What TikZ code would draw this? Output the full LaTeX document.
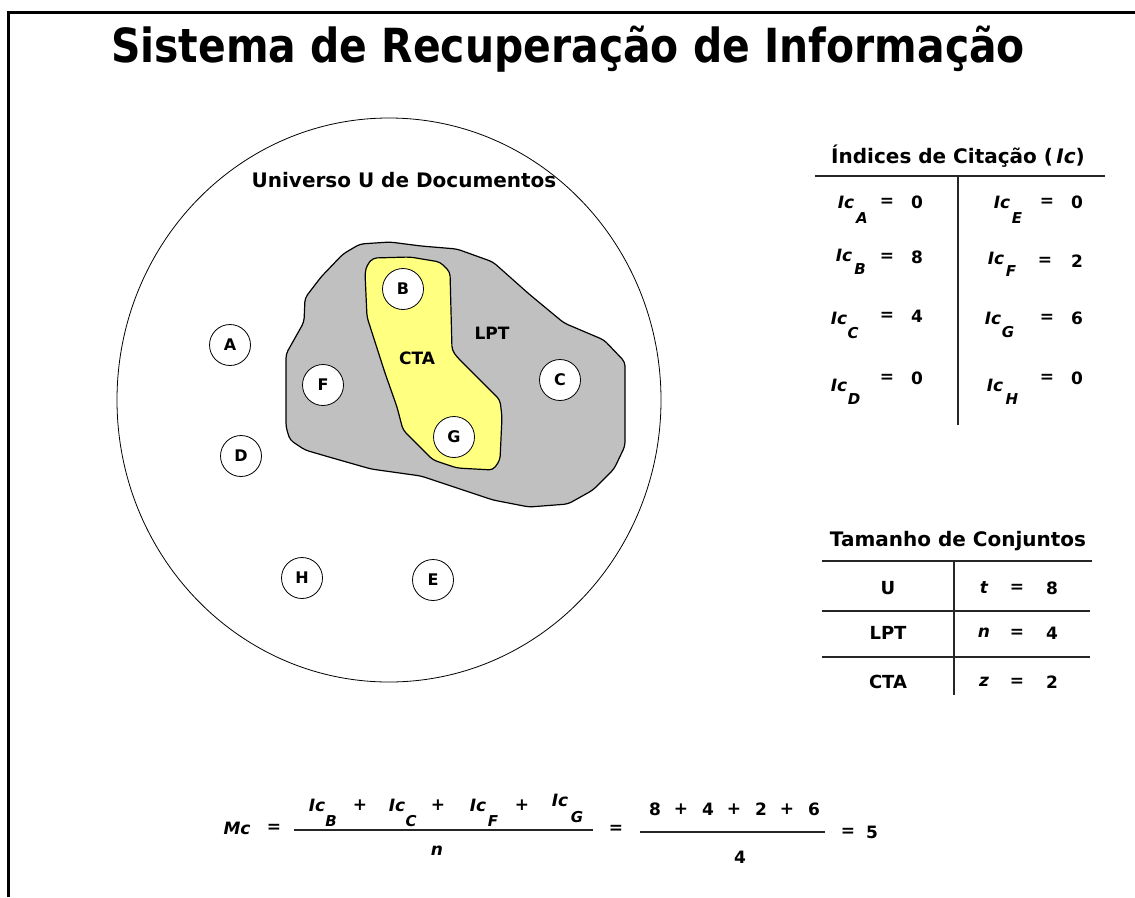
\documentclass[tikz,border=0pt]{standalone}
\usepackage{fontspec}
\setmainfont{DejaVu Sans}
\newfontfamily\titlefont[FakeStretch=0.87]{DejaVu Sans}
\usetikzlibrary{positioning}
\definecolor{lptgray}{HTML}{C0C0C0}
\definecolor{ctayellow}{HTML}{FFFF80}

\begin{document}
\begin{tikzpicture}[x=1pt,y=-1pt]
\tikzset{doc/.style={circle,draw,line width=0.8pt,fill=white,minimum size=41pt,inner sep=0pt,font=\bfseries\fontsize{16}{16}\selectfont},
  lbl/.style={font=\bfseries\fontsize{20}{20}\selectfont,inner sep=0pt},
  val/.style={font=\bfseries\fontsize{17}{17}\selectfont,inner sep=0pt},
  var/.style={font=\bfseries\itshape\fontsize{17}{17}\selectfont,inner sep=0pt},
  subs/.style={font=\bfseries\itshape\fontsize{15}{15}\selectfont,inner sep=0pt},
  tabline/.style={line width=1.5pt,black!85}}
\useasboundingbox (0,0) rectangle (1135,897);
\draw[line width=3pt] (8.5,897) -- (8.5,12.5) -- (1135,12.5);
\node[font=\titlefont\bfseries\fontsize{47}{47}\selectfont,anchor=base] (title) at (568,62) {Sistema de Recuperação de Informação};

% universo
\draw[line width=0.8pt] (389,400) ellipse [x radius=272pt, y radius=282pt];
\node[lbl] (univ) at (404,180) {Universo U de Documentos};
\draw[line width=1.2pt,fill=lptgray,rounded corners=4pt]
  (286,427) -- (286,354) -- (304,322) -- (305,298) -- (321,277) -- (343,254) -- (360,244)
  -- (390,242) -- (421,246) -- (457,249) -- (493,262) -- (529,294) -- (564,323) -- (604,340)
  -- (625,362) -- (625,446) -- (614,469) -- (593,490) -- (568,504) -- (529,507) -- (493,500)
  -- (457,488) -- (421,476) -- (371,469) -- (329,457) -- (305,450) -- (290,440) -- cycle;
\draw[line width=1.2pt,fill=ctayellow,rounded corners=4pt]
  (367,265) -- (373,258) -- (410,257) -- (440,262) -- (450,272) -- (452,350) -- (457,357)
  -- (477,377) -- (500,400) -- (502,417) -- (500,460) -- (493,470) -- (457,468) -- (433,460)
  -- (423,450) -- (403,430) -- (397,407) -- (385,373) -- (367,317) -- (365,273) -- cycle;
\node[val] (lpt) at (492,333) {LPT};
\node[val] (cta) at (417,358) {CTA};
\foreach \d/\x/\y in {A/230/345,B/403/289,C/560/380,D/241/456,E/433/580,F/323/385,G/454/437,H/302/578}
  \node[doc] (doc\d) at (\x,\y) {\d};

% indices de citacao
\node[lbl] (ictitle) at (958,156) {Índices de Citação (\,\textit{Ic})};
\draw[tabline] (815,176) -- (1105,176);
\draw[tabline] (958,176) -- (958,425);
\foreach \s/\ix/\iy/\sx/\sy/\ex/\ey/\vx/\v in {A/846/202/862/218/887/202/917/0,
    B/844/255/860/269/887/257/917/8, C/839/318/853/333/887/316/917/4,
    D/839/385/854/399/887/378/917/0, E/1002/202/1017/218/1047/202/1077/0,
    F/996/258/1011/271/1045/261/1077/2, G/993/318/1008/332/1047/318/1077/6,
    H/995/385/1012/399/1047/378/1077/0}{
  \node[var] (ic\s) at (\ix,\iy) {Ic};
  \node[subs] (ic\s-sub) at (\sx,\sy) {\s};
  \node[val] (ic\s-eq) at (\ex,\ey) {=};
  \node[val] (ic\s-val) at (\vx,\ey) {\v};
}

% tamanho de conjuntos
\node[lbl] (tctitle) at (958,541) {Tamanho de Conjuntos};
\draw[tabline] (822,561) -- (1092,561);
\draw[tabline] (822,611) -- (1090,611);
\draw[tabline] (822,657) -- (1090,657);
\draw[tabline] (954,561) -- (954,695);
\foreach \set/\v/\n/\y in {U/t/8/588, LPT/n/4/633, CTA/z/2/682}{
  \node[val,font=\bfseries\fontsize{18}{18}\selectfont] (set\set) at (888,\y) {\set};
  \node[var] (size\set) at (984,\y) {\v};
  \node[val] (eq\set) at (1017,\y) {=};
  \node[val] (num\set) at (1052,\y) {\n};
}

% media de citacao
\node[var] (mc) at (237,828) {Mc};
\node[val] (eq1) at (274,828) {=};
\draw[tabline] (294,830) -- (593,830);
\foreach \s/\ix/\iy/\sx/\sy in {B/317/805/331/821, C/397/805/411/821, F/478/805/493/821, G/560/800/577/817}{
  \node[var] (mc\s) at (\ix,\iy) {Ic};
  \node[subs] (mc\s-sub) at (\sx,\sy) {\s};
}
\foreach \px [count=\i] in {360,438,522}
  \node[val] (plus\i) at (\px,805) {+};
\node[var] (den) at (437,851) {n};
\node[val] (eq2) at (616,829) {=};
\draw[tabline] (640,832) -- (825,832);
\foreach \t/\tx [count=\i] in {8/655,+/681,4/708,+/734,2/761,+/787,6/814}
  \node[val] (sum\i) at (\tx,809) {\t};
\node[val] (four) at (740,857) {4};
\node[val] (eq3) at (848,832) {=};
\node[val] (res) at (872,832) {5};
\end{tikzpicture}
\end{document}
